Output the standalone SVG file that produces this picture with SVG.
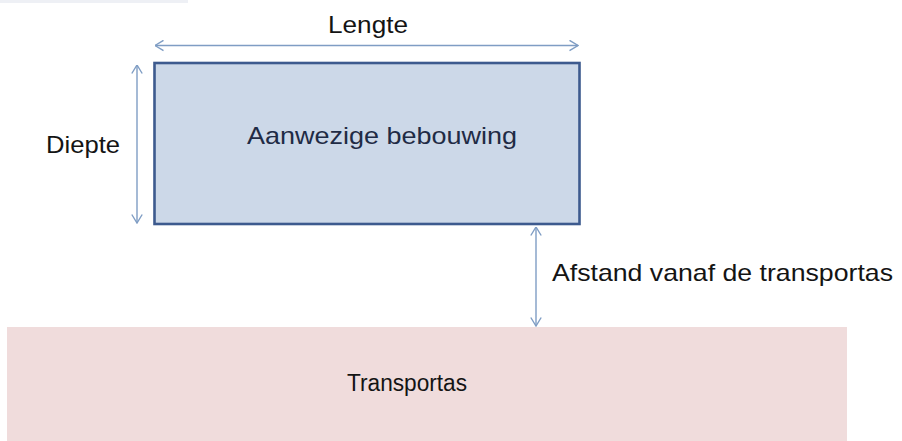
<svg xmlns="http://www.w3.org/2000/svg" width="902" height="441" viewBox="0 0 902 441">
<defs>
<style>
.t{font-family:"Liberation Sans",Arial,sans-serif;fill:#141414}
.dim{stroke:#7f9dc4;stroke-width:1.4;fill:none}
</style>
<marker id="chev" viewBox="0 0 10 12" refX="9.5" refY="6" markerWidth="10" markerHeight="12" markerUnits="userSpaceOnUse" orient="auto-start-reverse">
<path d="M1,0.8 L9.5,6 L1,11.2" fill="none" stroke="#7f9dc4" stroke-width="1.4"/>
</marker>
</defs>
<rect x="0" y="0" width="902" height="441" fill="#ffffff"/>
<rect x="0" y="0" width="188" height="3" fill="#eef0f5"/>
<g id="transportas">
<rect x="7" y="327" width="840" height="114" fill="#f0dcdc"/>
<text class="t" x="347" y="391" font-size="23" textLength="120" lengthAdjust="spacingAndGlyphs">Transportas</text>
</g>
<g id="bebouwing">
<rect x="154.5" y="63" width="425" height="161" fill="#ccd8e8" stroke="#3d5a8e" stroke-width="2.6"/>
<text class="t" x="247" y="144" font-size="24" style="fill:#1f2b45" textLength="270" lengthAdjust="spacingAndGlyphs">Aanwezige bebouwing</text>
</g>
<g id="connectors">
<line class="dim" x1="155" y1="45.5" x2="578" y2="45.5" marker-start="url(#chev)" marker-end="url(#chev)"/>
<line class="dim" x1="137" y1="65" x2="137" y2="223" marker-start="url(#chev)" marker-end="url(#chev)"/>
<line class="dim" x1="536" y1="227" x2="536" y2="326" marker-start="url(#chev)" marker-end="url(#chev)"/>
</g>
<g id="labels">
<text class="t" x="328" y="33" font-size="23" textLength="80" lengthAdjust="spacingAndGlyphs">Lengte</text>
<text class="t" x="46" y="153" font-size="24" textLength="74" lengthAdjust="spacingAndGlyphs">Diepte</text>
<text class="t" x="552" y="281" font-size="24" textLength="341" lengthAdjust="spacingAndGlyphs">Afstand vanaf de transportas</text>
</g>
</svg>
